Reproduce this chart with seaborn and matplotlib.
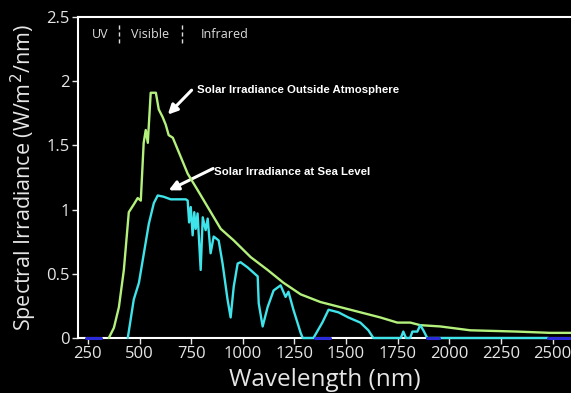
import numpy as np
import pandas as pd
import matplotlib
matplotlib.use("Agg")
import matplotlib.pyplot as plt
import seaborn as sns

# Solar irradiance outside the atmosphere
space_wl = [351, 376, 400, 424, 448, 472, 491, 506, 520, 530, 540, 554, 579, 593,
            612, 627, 641, 661, 733, 782, 893, 956, 1038, 1120, 1197, 1280, 1376,
            1521, 1666, 1748, 1811, 1859, 1956, 2101, 2328, 2488, 2589]
space_val = [0, 0.08, 0.24, 0.53, 0.98, 1.04, 1.09, 1.07, 1.52, 1.62, 1.52, 1.91, 1.91, 1.78,
             1.72, 1.66, 1.58, 1.56, 1.28, 1.15, 0.85, 0.76, 0.63, 0.53, 0.43, 0.34, 0.28,
             0.22, 0.16, 0.12, 0.12, 0.10, 0.09, 0.06, 0.05, 0.04, 0.04]

# Solar irradiance at sea level
sea_wl = [443, 472, 497, 521, 545, 569, 588, 617, 651, 724, 733, 740, 748, 757, 765,
          772, 781, 796, 806, 820, 830, 844, 859, 883, 902, 926, 941, 956, 975, 989,
          1023, 1072, 1077, 1096, 1120, 1149, 1183, 1207, 1221, 1245, 1280, 1290,
          1342, 1385, 1415, 1463, 1511, 1569, 1608, 1632, 1765, 1777, 1790, 1810,
          1821, 1845, 1859, 1874, 1893, 2480]
sea_val = [0, 0.30, 0.43, 0.66, 0.89, 1.05, 1.11, 1.10, 1.08, 1.08, 1.07, 0.90, 1.02, 0.80, 0.98,
           0.85, 0.97, 0.53, 0.94, 0.84, 0.93, 0.66, 0.79, 0.76, 0.58, 0.30, 0.16, 0.40, 0.58, 0.59,
           0.55, 0.48, 0.27, 0.09, 0.24, 0.37, 0.41, 0.32, 0.36, 0.22, 0.04, 0,
           0, 0.12, 0.22, 0.20, 0.16, 0.12, 0.06, 0, 0, 0.05, 0, 0,
           0.05, 0.05, 0.10, 0.06, 0, 0]

# blue baseline pieces
base_wl = [240, 315, 1350, 1420, 1893, 1950, 2480, 2600]
base_val = [0, 0, 0, 0, 0, 0, 0, 0]
base_seg = [0, 0, 1, 1, 2, 2, 3, 3]

xticks = [250, 500, 750, 1000, 1250, 1500, 1750, 2000, 2250, 2500]
yticks = [0, 0.5, 1, 1.5, 2, 2.5]
ytick_labels = ["0", "0.5", "1", "1.5", "2", "2.5"]

space = pd.DataFrame({"wl": space_wl, "val": space_val})
sea = pd.DataFrame({"wl": sea_wl, "val": sea_val})
base = pd.DataFrame({"wl": base_wl, "val": base_val, "seg": base_seg})

sns.set_style("dark", {"axes.facecolor": "black", "figure.facecolor": "black"})
plt.rcParams["font.family"] = ["Open Sans", "DejaVu Sans"]

fig = plt.figure(figsize=(5.71, 3.93), dpi=100)
fig.patch.set_facecolor("black")
ax = fig.add_axes([78 / 571, 55 / 393, 493 / 571, 321 / 393])
ax.set_facecolor("black")

green = "#b4f07c"
cyan = "#3fe3ea"
blue = "#2b2bdc"

sns.lineplot(data=space, x="wl", y="val", color=green, lw=1.7, ax=ax, estimator=None, sort=False)
sns.lineplot(data=sea, x="wl", y="val", color=cyan, lw=1.7, ax=ax, estimator=None, sort=False)
sns.lineplot(data=base, x="wl", y="val", units="seg", color=blue, lw=2.2, ax=ax,
             estimator=None, sort=False)
for ln in ax.lines:
    ln.set_clip_on(False)
    ln.set_zorder(4)

ax.set_xlim(202, 2589)
ax.set_ylim(0, 2.5)
ax.set_xticks(xticks)
ax.set_yticks(yticks)
ax.set_yticklabels(ytick_labels)
ax.grid(False)

for side in ["left", "bottom", "top"]:
    ax.spines[side].set_visible(True)
    ax.spines[side].set_color("white")
    ax.spines[side].set_linewidth(1.5)
ax.spines["right"].set_visible(False)
ax.spines["bottom"].set_zorder(1)

ax.tick_params(axis="both", colors="#e6e6e6", labelsize=12, length=4, width=1,
               direction="out", bottom=True, left=True, pad=2)

ax.set_xlabel("Wavelength (nm)", color="#e6e6e6", fontsize=17.5, labelpad=4)
ax.set_ylabel("Spectral Irradiance (W/m$^2$/nm)", color="#e6e6e6", fontsize=15.5, labelpad=5)

# spectral region labels at the top
ax.text(308, 2.36, "UV", color="#dddddd", fontsize=9, ha="center", va="center")
ax.text(550, 2.36, "Visible", color="#dddddd", fontsize=9, ha="center", va="center")
ax.text(796, 2.36, "Infrared", color="#dddddd", fontsize=9, ha="left", va="center")
for xs in [400, 704]:
    ax.plot([xs, xs], [2.30, 2.455], color="#dddddd", lw=1, ls=(0, (3, 2)))

# annotations
arrow = dict(arrowstyle="-|>", color="white", lw=2.2, mutation_scale=14, shrinkA=0, shrinkB=0)
ax.annotate("", xy=(637, 1.74), xytext=(752, 1.93), arrowprops=arrow)
ax.text(777, 1.93, "Solar Irradiance Outside Atmosphere", color="white", fontsize=8.2,
        fontweight="bold", family=["Liberation Sans", "DejaVu Sans"], ha="left", va="center")
ax.annotate("", xy=(641, 1.15), xytext=(856, 1.32), arrowprops=arrow)
ax.text(859, 1.29, "Solar Irradiance at Sea Level", color="white", fontsize=8.2,
        fontweight="bold", family=["Liberation Sans", "DejaVu Sans"], ha="left", va="center")

fig.savefig("out.png", dpi=100, facecolor="black")
